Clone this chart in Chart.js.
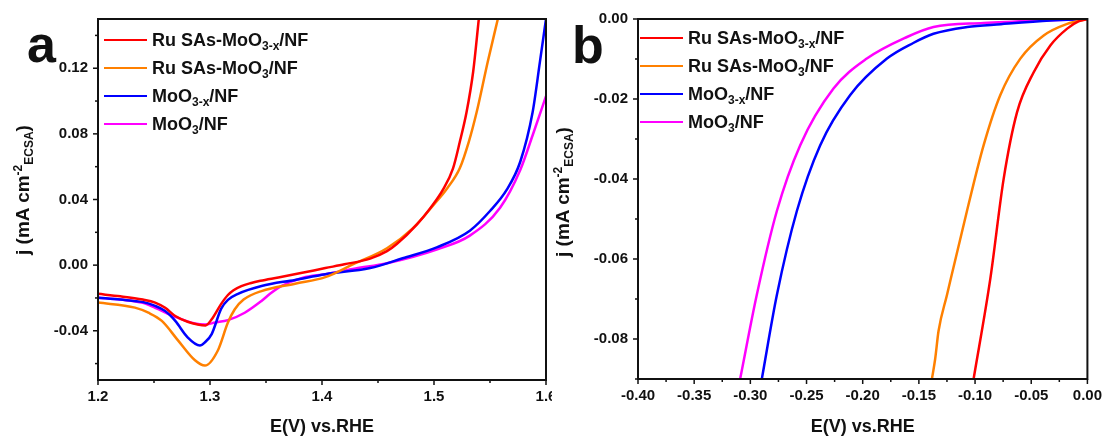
<!DOCTYPE html>
<html>
<head>
<meta charset="utf-8">
<script src="https://cdn.jsdelivr.net/npm/chart.js@4.4.1/dist/chart.umd.min.js"></script>
<style>
  body { margin: 0; background: #fff; font-family: "Liberation Sans", Arial, sans-serif; }
  #page { position: relative; width: 1104px; height: 438px; overflow: hidden; background: #fff; }
  .wrap { position: absolute; top: 0; height: 438px; overflow: hidden; }
  .letter { position: absolute; font-weight: bold; font-size: 52px; line-height: 52px; color: #111; }
  .ytitle { position: absolute; white-space: nowrap; font-weight: bold; font-size: 19px; line-height: 19px; color: #111;
            transform: translate(-50%, -50%) rotate(-90deg); }
  .row { position: absolute; display: flex; align-items: center; height: 18px; white-space: nowrap;
         font-weight: bold; font-size: 18px; line-height: 18px; color: #111; }
  .swatch { width: 43px; height: 2.5px; margin-right: 5px; }
  sub, sup { font-size: 12px; line-height: 0; }
  sub { vertical-align: -4px; }
  sup { vertical-align: 7px; }
</style>
</head>
<body>
<div id="page">
  <div class="wrap" style="left:0;width:552px"><canvas id="chartA" width="570" height="438"></canvas></div>
  <div class="wrap" style="left:552px;width:552px"><canvas id="chartB" width="558" height="438"></canvas></div>
  <div class="letter" style="left:27px;top:18px">a</div>
  <div class="letter" style="left:572px;top:19px">b</div>
  <div class="ytitle" style="left:22px;top:190px">j (mA cm<sup>-2</sup><sub>ECSA</sub>)</div>
  <div class="ytitle" style="left:562px;top:192px">j (mA cm<sup>-2</sup><sub>ECSA</sub>)</div>
  <div id="legendA"></div>
  <div id="legendB"></div>
</div>
<script>
const seriesNames = ['Ru SAs-MoO<sub>3-x</sub>/NF', 'Ru SAs-MoO<sub>3</sub>/NF', 'MoO<sub>3-x</sub>/NF', 'MoO<sub>3</sub>/NF'];
const seriesColors = ['#ff0000', '#ff8000', '#0000ff', '#ff00ff'];

// panel a: potential (V vs RHE) and current density
const aRuMoO3xE = [1.20, 1.22, 1.24, 1.251, 1.26, 1.269, 1.28, 1.289, 1.296, 1.3015, 1.31, 1.316, 1.321, 1.328, 1.336, 1.345, 1.361, 1.38, 1.403, 1.42, 1.443, 1.458, 1.467, 1.485, 1.497, 1.508, 1.517, 1.523, 1.529, 1.535, 1.540];
const aRuMoO3xJ = [-0.0175, -0.019, -0.021, -0.0228, -0.026, -0.031, -0.0345, -0.0362, -0.0368, -0.033, -0.0236, -0.0182, -0.0153, -0.0128, -0.011, -0.0095, -0.0075, -0.005, -0.0018, 0.0005, 0.004, 0.0085, 0.013, 0.025, 0.035, 0.046, 0.059, 0.075, 0.093, 0.118, 0.15];
const aRuMoO3E = [1.20, 1.233, 1.245, 1.257, 1.2716, 1.2866, 1.2955, 1.307, 1.316, 1.322, 1.33, 1.346, 1.376, 1.403, 1.428, 1.458, 1.481, 1.50, 1.512, 1.523, 1.531, 1.538, 1.548, 1.557];
const aRuMoO3J = [-0.0228, -0.0259, -0.029, -0.034, -0.046, -0.058, -0.0612, -0.052, -0.035, -0.027, -0.021, -0.0158, -0.0113, -0.0073, 0.0006, 0.0103, 0.0224, 0.037, 0.047, 0.059, 0.075, 0.093, 0.124, 0.15];
const aMoO3xE = [1.20, 1.22, 1.24, 1.251, 1.26, 1.269, 1.28, 1.291, 1.2955, 1.3015, 1.31, 1.316, 1.325, 1.346, 1.376, 1.403, 1.443, 1.472, 1.503, 1.532, 1.55, 1.565, 1.577, 1.588, 1.5946, 1.60];
const aMoO3xJ = [-0.0198, -0.021, -0.0225, -0.0248, -0.028, -0.034, -0.044, -0.049, -0.047, -0.042, -0.0265, -0.0212, -0.0175, -0.0127, -0.009, -0.0055, -0.0018, 0.0042, 0.011, 0.021, 0.033, 0.046, 0.063, 0.093, 0.124, 0.15];
const aMoO3E = [1.20, 1.22, 1.24, 1.251, 1.269, 1.2866, 1.2955, 1.3045, 1.316, 1.331, 1.346, 1.3536, 1.364, 1.383, 1.403, 1.43, 1.458, 1.503, 1.532, 1.559, 1.577, 1.588, 1.60];
const aMoO3J = [-0.0198, -0.021, -0.023, -0.026, -0.0315, -0.0356, -0.0362, -0.035, -0.0335, -0.029, -0.0218, -0.0175, -0.0127, -0.0077, -0.0055, -0.002, 0.0012, 0.0097, 0.018, 0.035, 0.058, 0.079, 0.103];

// panel b: cathodic region
const bRuMoO3xE = [-0.1013, -0.0864, -0.0745, -0.0626, -0.0478, -0.033, -0.018, -0.008, 0];
const bRuMoO3xJ = [-0.09, -0.0649, -0.0399, -0.0233, -0.0133, -0.0066, -0.0024, -0.0006, 0];
const bRuMoO3E = [-0.1384, -0.1355, -0.1325, -0.125, -0.1072, -0.0924, -0.0775, -0.0597, -0.0389, -0.018, 0];
const bRuMoO3J = [-0.09, -0.085, -0.078, -0.069, -0.048, -0.0316, -0.019, -0.0099, -0.0041, -0.0012, 0];
const bMoO3xE = [-0.2898, -0.2764, -0.2586, -0.2379, -0.2111, -0.1784, -0.155, -0.137, -0.107, -0.077, -0.033, 0];
const bMoO3xJ = [-0.09, -0.069, -0.048, -0.0316, -0.019, -0.0099, -0.006, -0.0037, -0.002, -0.0013, -0.0004, 0];
const bMoO3E = [-0.3091, -0.2943, -0.2764, -0.2557, -0.226, -0.1963, -0.1606, -0.137, -0.0925, -0.033, 0];
const bMoO3J = [-0.09, -0.069, -0.048, -0.0316, -0.0174, -0.0099, -0.0045, -0.002, -0.001, -0.0003, 0];

// tick labels
const aXTicks = [1.2, 1.3, 1.4, 1.5, 1.6];
const aYTicks = [-0.04, 0.00, 0.04, 0.08, 0.12];
const bXTicks = [-0.40, -0.35, -0.30, -0.25, -0.20, -0.15, -0.10, -0.05, 0.00];
const bYTicks = [-0.08, -0.06, -0.04, -0.02, 0.00];

const ink = '#111';

function points(xs, ys) {
  return xs.map((x, i) => ({ x: x, y: ys[i] }));
}

// box frame plus outward major / minor tick marks
const frameTicks = {
  id: 'frameTicks',
  afterDraw(chart) {
    const { ctx, chartArea: a } = chart;
    ctx.save();
    ctx.strokeStyle = ink;
    ctx.lineWidth = 1.5;
    ['x', 'y'].forEach(id => {
      const s = chart.scales[id];
      const major = s.ticks.map(t => t.value);
      const step = major[1] - major[0];
      const minor = [];
      for (let v = major[0] - step / 2; v <= s.max + 1e-9; v += step) {
        if (v >= s.min - 1e-9) minor.push(v);
      }
      const mark = (v, len) => {
        const p = s.getPixelForValue(v);
        ctx.beginPath();
        if (id === 'x') { ctx.moveTo(p, a.bottom); ctx.lineTo(p, a.bottom + len); }
        else { ctx.moveTo(a.left - len, p); ctx.lineTo(a.left, p); }
        ctx.stroke();
      };
      major.forEach(v => mark(v, 5));
      minor.forEach(v => mark(v, 3));
    });
    ctx.lineWidth = 2;
    ctx.strokeRect(a.left, a.top, a.right - a.left, a.bottom - a.top);
    ctx.restore();
  }
};

// legend written as html so the sub/superscripts stay real text
function htmlLegend(targetId, left, top) {
  return {
    id: 'htmlLegend',
    afterUpdate(chart) {
      const box = document.getElementById(targetId);
      box.innerHTML = '';
      chart.data.datasets.forEach((ds, i) => {
        const row = document.createElement('div');
        row.className = 'row';
        row.style.left = left + 'px';
        row.style.top = (top + i * 28 - 9) + 'px';
        row.innerHTML = '<span class="swatch" style="background:' + ds.borderColor + '"></span><span>' + ds.label + '</span>';
        box.appendChild(row);
      });
    }
  };
}

function makePanel(canvasId, sets, opts) {
  return new Chart(document.getElementById(canvasId), {
    type: 'scatter',
    data: {
      datasets: sets.map((s, i) => ({
        label: seriesNames[i],
        data: points(s[0], s[1]),
        showLine: true,
        borderColor: seriesColors[i],
        borderWidth: 2.5,
        pointRadius: 0,
        cubicInterpolationMode: 'monotone'
      }))
    },
    options: {
      responsive: false,
      animation: false,
      events: [],
      layout: { padding: { left: 0, top: 17, right: opts.padRight, bottom: 0 } },
      plugins: { legend: { display: false }, tooltip: { enabled: false } },
      scales: {
        x: {
          type: 'linear', min: opts.xMin, max: opts.xMax,
          grid: { display: false, drawTicks: false },
          border: { display: false },
          afterBuildTicks: s => { s.ticks = opts.xTicks.map(v => ({ value: v })); },
          afterFit: s => { s.height = opts.xHeight; },
          ticks: { color: ink, padding: 8, maxRotation: 0, autoSkip: false,
                   font: { family: 'Liberation Sans', size: 15, weight: 'bold' },
                   callback: v => v.toFixed(opts.xDigits) },
          title: { display: true, text: 'E(V) vs.RHE', color: ink, padding: 0,
                   font: { family: 'Liberation Sans', size: 18, weight: 'bold' } }
        },
        y: {
          type: 'linear', min: opts.yMin, max: opts.yMax,
          grid: { display: false, drawTicks: false },
          border: { display: false },
          afterBuildTicks: s => { s.ticks = opts.yTicks.map(v => ({ value: v })); },
          afterFit: s => { s.width = opts.yWidth; },
          ticks: { color: ink, padding: 10, autoSkip: false,
                   font: { family: 'Liberation Sans', size: 15, weight: 'bold' },
                   callback: v => v.toFixed(2) }
        }
      }
    },
    plugins: [frameTicks, htmlLegend(opts.legendId, opts.legendLeft, opts.legendTop)]
  });
}

makePanel('chartA', [
  [aRuMoO3xE, aRuMoO3xJ], [aRuMoO3E, aRuMoO3J], [aMoO3xE, aMoO3xJ], [aMoO3E, aMoO3J]
], {
  xMin: 1.2, xMax: 1.6, yMin: -0.07, yMax: 0.15, xTicks: aXTicks, yTicks: aYTicks, xDigits: 1,
  xHeight: 58, yWidth: 98, padRight: 24, legendId: 'legendA', legendLeft: 104, legendTop: 40
});

makePanel('chartB', [
  [bRuMoO3xE, bRuMoO3xJ], [bRuMoO3E, bRuMoO3J], [bMoO3xE, bMoO3xJ], [bMoO3E, bMoO3J]
], {
  xMin: -0.40, xMax: 0, yMin: -0.09, yMax: 0, xTicks: bXTicks, yTicks: bYTicks, xDigits: 2,
  xHeight: 59, yWidth: 86, padRight: 11, legendId: 'legendB', legendLeft: 640, legendTop: 38
});
</script>
</body>
</html>
